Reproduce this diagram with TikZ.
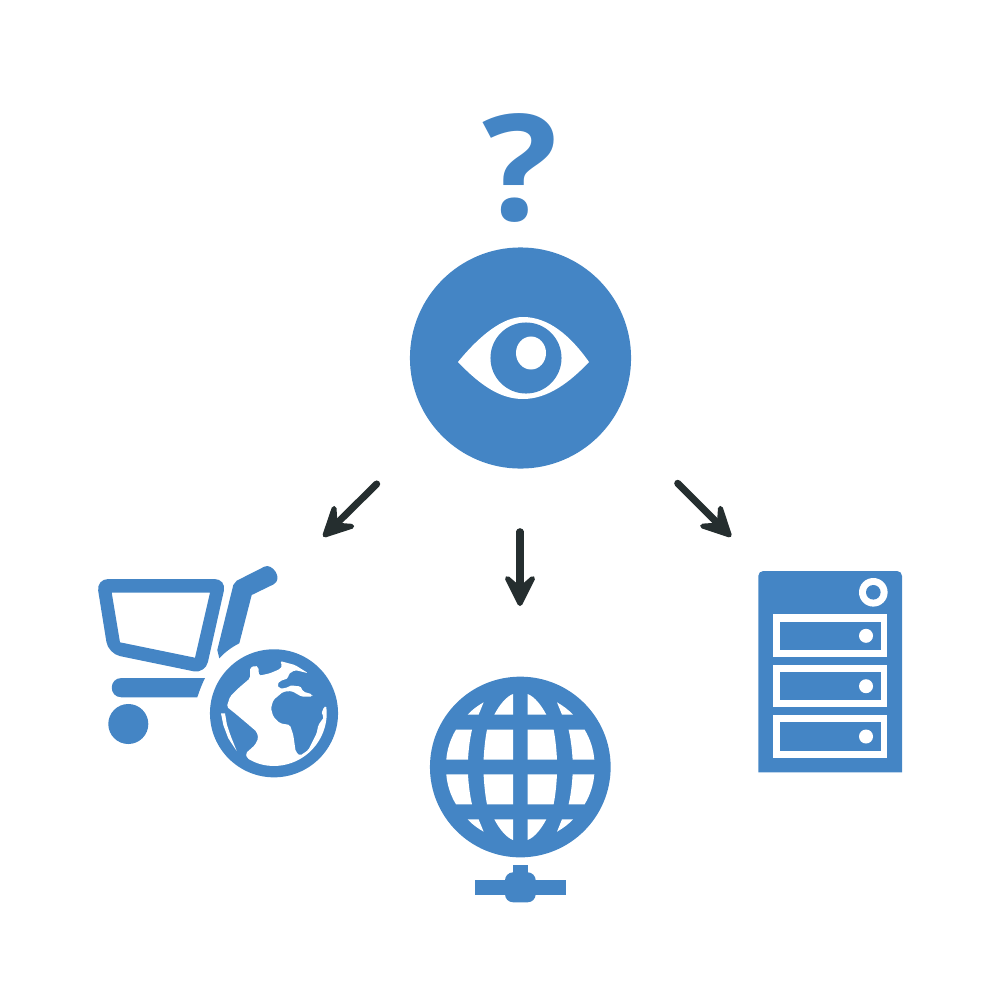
\documentclass[tikz,border=0pt]{standalone}
\usepackage{fontspec}
\usepackage{xcolor}
\usetikzlibrary{arrows.meta}
\newfontfamily\markfont{Open Sans}[BoldFont={Open Sans Bold}]
\definecolor{iconblue}{rgb}{0.267,0.522,0.773}
\definecolor{arrowdark}{rgb}{0.145,0.180,0.184}
\tikzset{
    flowarrow/.style={draw=arrowdark,line width=2pt,line cap=round,
        -{Stealth[length=11.5pt,width=11.5pt,inset=5pt,round,line width=1.4pt]}},
    blueshape/.style={fill=iconblue,draw=none},
    whiteshape/.style={fill=white,draw=none},
}

\begin{document}
\begin{tikzpicture}[x=0.01cm,y=-0.01cm]

    % Coordinates are pixels of the 1000px square.
    \useasboundingbox (0,0) rectangle (1000,1000);

    % Question mark.
    \node[text=iconblue,inner sep=0pt,transform shape,xscale=1.07,
        font=\markfont\bfseries\fontsize{42}{42}\selectfont]
        (question) at (520.5,168) {?};

    % Eye.
    \node[circle,fill=iconblue,minimum size=2.21cm,inner sep=0pt] (eyedisc) at (520.5,358) {};
    \path[whiteshape] (458,362) .. controls (480,335) and (503,317) .. (523,317)
        .. controls (548,317) and (570,335) .. (589,362)
        .. controls (570,382) and (548,399) .. (523,399)
        .. controls (500,399) and (480,385) .. (458,362) -- cycle;
    \path[blueshape] (526,358) circle[radius=0.355cm];
    \path[whiteshape] (531,353) circle[x radius=0.15cm,y radius=0.165cm];

    % Arrows.
    \coordinate (lefttail) at (376.7,484);
    \coordinate (lefthead) at (323.3,536.7);
    \coordinate (midtail) at (520,531.7);
    \coordinate (midhead) at (520,606);
    \coordinate (righttail) at (677.7,483.3);
    \coordinate (righthead) at (731,536.7);
    \draw[flowarrow] (lefttail) -- (lefthead);
    \draw[flowarrow] (midtail) -- (midhead);
    \draw[flowarrow] (righttail) -- (righthead);

    % Cart: basket, handle, bar, wheel.
    \path[blueshape,even odd rule,rounded corners=3.4pt] (96.3,579) -- (226.5,579) -- (205.3,673.7)
        -- (108.3,653.7) -- cycle
        [sharp corners] (111.7,592.7) -- (210,592.7) -- (195,657.7) -- (120,642.3) -- cycle;
    \path[blueshape] (217.3,650) -- (233.3,585) -- (236.7,580.7) -- (264.3,566.7)
        .. controls (272,562.5) and (284,579) .. (273.3,584.5)
        -- (251.7,595) -- (239.3,643.3)
        .. controls (232,647) and (225,652) .. (219.3,658.3) -- cycle;
    \path[blueshape] (205,678) -- (121.5,678) .. controls (108.5,678) and (108.5,697.3) .. (121.5,697.3)
        -- (197.3,697.3) .. controls (199.5,690.5) and (202,684) .. (205,678) -- cycle;
    \path[blueshape] (128.3,724) circle[radius=0.2cm];

    % Earth: disc, then the white sea on it.
    \path[blueshape] (274,713.3) circle[radius=0.64cm];
    \path[whiteshape,rounded corners=0.5pt] (250,667.7) -- (250,678.3) -- (238.3,688.3) -- (230,696.7)
        -- (226.7,706.7) -- (235,713.3) -- (245,721.7) -- (256.7,731.7) -- (258.3,738.3)
        -- (255,745) -- (245.7,753.3) -- (247.1,758.1)
        arc[radius=0.523cm,start angle=-121.3,end angle=8.9]
        -- (322.3,710) -- (321.7,715) -- (324.3,716.7) -- (318.3,725) -- (316.7,733.3)
        -- (308.3,750) -- (300,755.7) -- (295.7,751.7) -- (293.3,735) -- (290,725)
        -- (280,723.3) -- (273.3,716.7) -- (271,708.3) -- (273.3,700) -- (283.3,691.7)
        -- (291.7,691) -- (301.7,696.7) -- (312.3,696.7) -- (312.3,694.3) -- (303.3,691.7)
        -- (300,685.7) -- (296,686.5) -- (292.3,685) -- (285,688.3)
        -- (279,688.3) -- (277.3,684.3) -- (280,681) -- (288.3,678.3) -- (288.3,674.3)
        -- (295,670) -- (308.3,673.3) -- (295,665) -- (280,661) -- (282.3,665.7)
        -- (280,669) -- (270,673.3) -- (259,675.7) -- (258.3,666.7) -- (255,665.7) -- cycle;
    \path[whiteshape] (221,713.3) -- (223.3,725) -- (228.3,738.3) -- (236.7,751)
        -- (231,736.7) -- (227,725) -- (225,713.3) -- cycle;

    % Web globe, one quarter of the cells mirrored four times.
    \path[blueshape] (520.3,767) circle[radius=0.903cm];
    \foreach \sx in {1,-1} {
        \foreach \sy in {1,-1} {
            \begin{scope}[shift={(520.3,767)},xscale=\sx,yscale=\sy]
                \path[whiteshape] (-74,-7.3) .. controls (-73.2,-17.5) and (-70,-28) .. (-64.3,-37.3)
                    -- (-48.3,-37.3) .. controls (-50.5,-28) and (-51.8,-17) .. (-52.3,-7.3) -- cycle;
                \path[whiteshape] (-36.7,-7.3) .. controls (-36.2,-17) and (-35.2,-28) .. (-33.3,-37.3)
                    -- (-7.3,-37.3) -- (-7.3,-7.3) -- cycle;
                \path[whiteshape] (-7.3,-73) .. controls (-14,-70.5) and (-21,-62) .. (-26,-52.3)
                    -- (-7.3,-52.3) -- cycle;
                \path[whiteshape] (-36.7,-64.7) .. controls (-43,-61) and (-48.5,-57) .. (-52.7,-52.3)
                    -- (-41.7,-52.3) -- cycle;
            \end{scope}
        }
    }
    % Its network plug.
    \path[blueshape] (512.7,865) rectangle (527.7,880);
    \path[blueshape] (475,880) rectangle (565.7,895);
    \path[blueshape,rounded corners=2.3pt] (505,872.3) rectangle (535.7,902.3);

    % Server.
    \path[blueshape] (758.3,772.3) [rounded corners=1.4pt] -- (758.3,571) -- (902,571)
        [sharp corners] -- (902,772.3) -- cycle;
    \path[whiteshape] (873.3,592.3) circle[radius=0.143cm];
    \path[blueshape] (873.3,592.3) circle[radius=0.073cm];
    \foreach \baytop in {614.3,664.7,715} {
        \path[whiteshape] (773.3,\baytop) rectangle (887.3,\baytop+42.7);
        \path[blueshape] (780,\baytop+7.2) rectangle (880.7,\baytop+35.7);
        \path[whiteshape] (866,\baytop+21.5) circle[radius=0.07cm];
    }

\end{tikzpicture}
\end{document}
